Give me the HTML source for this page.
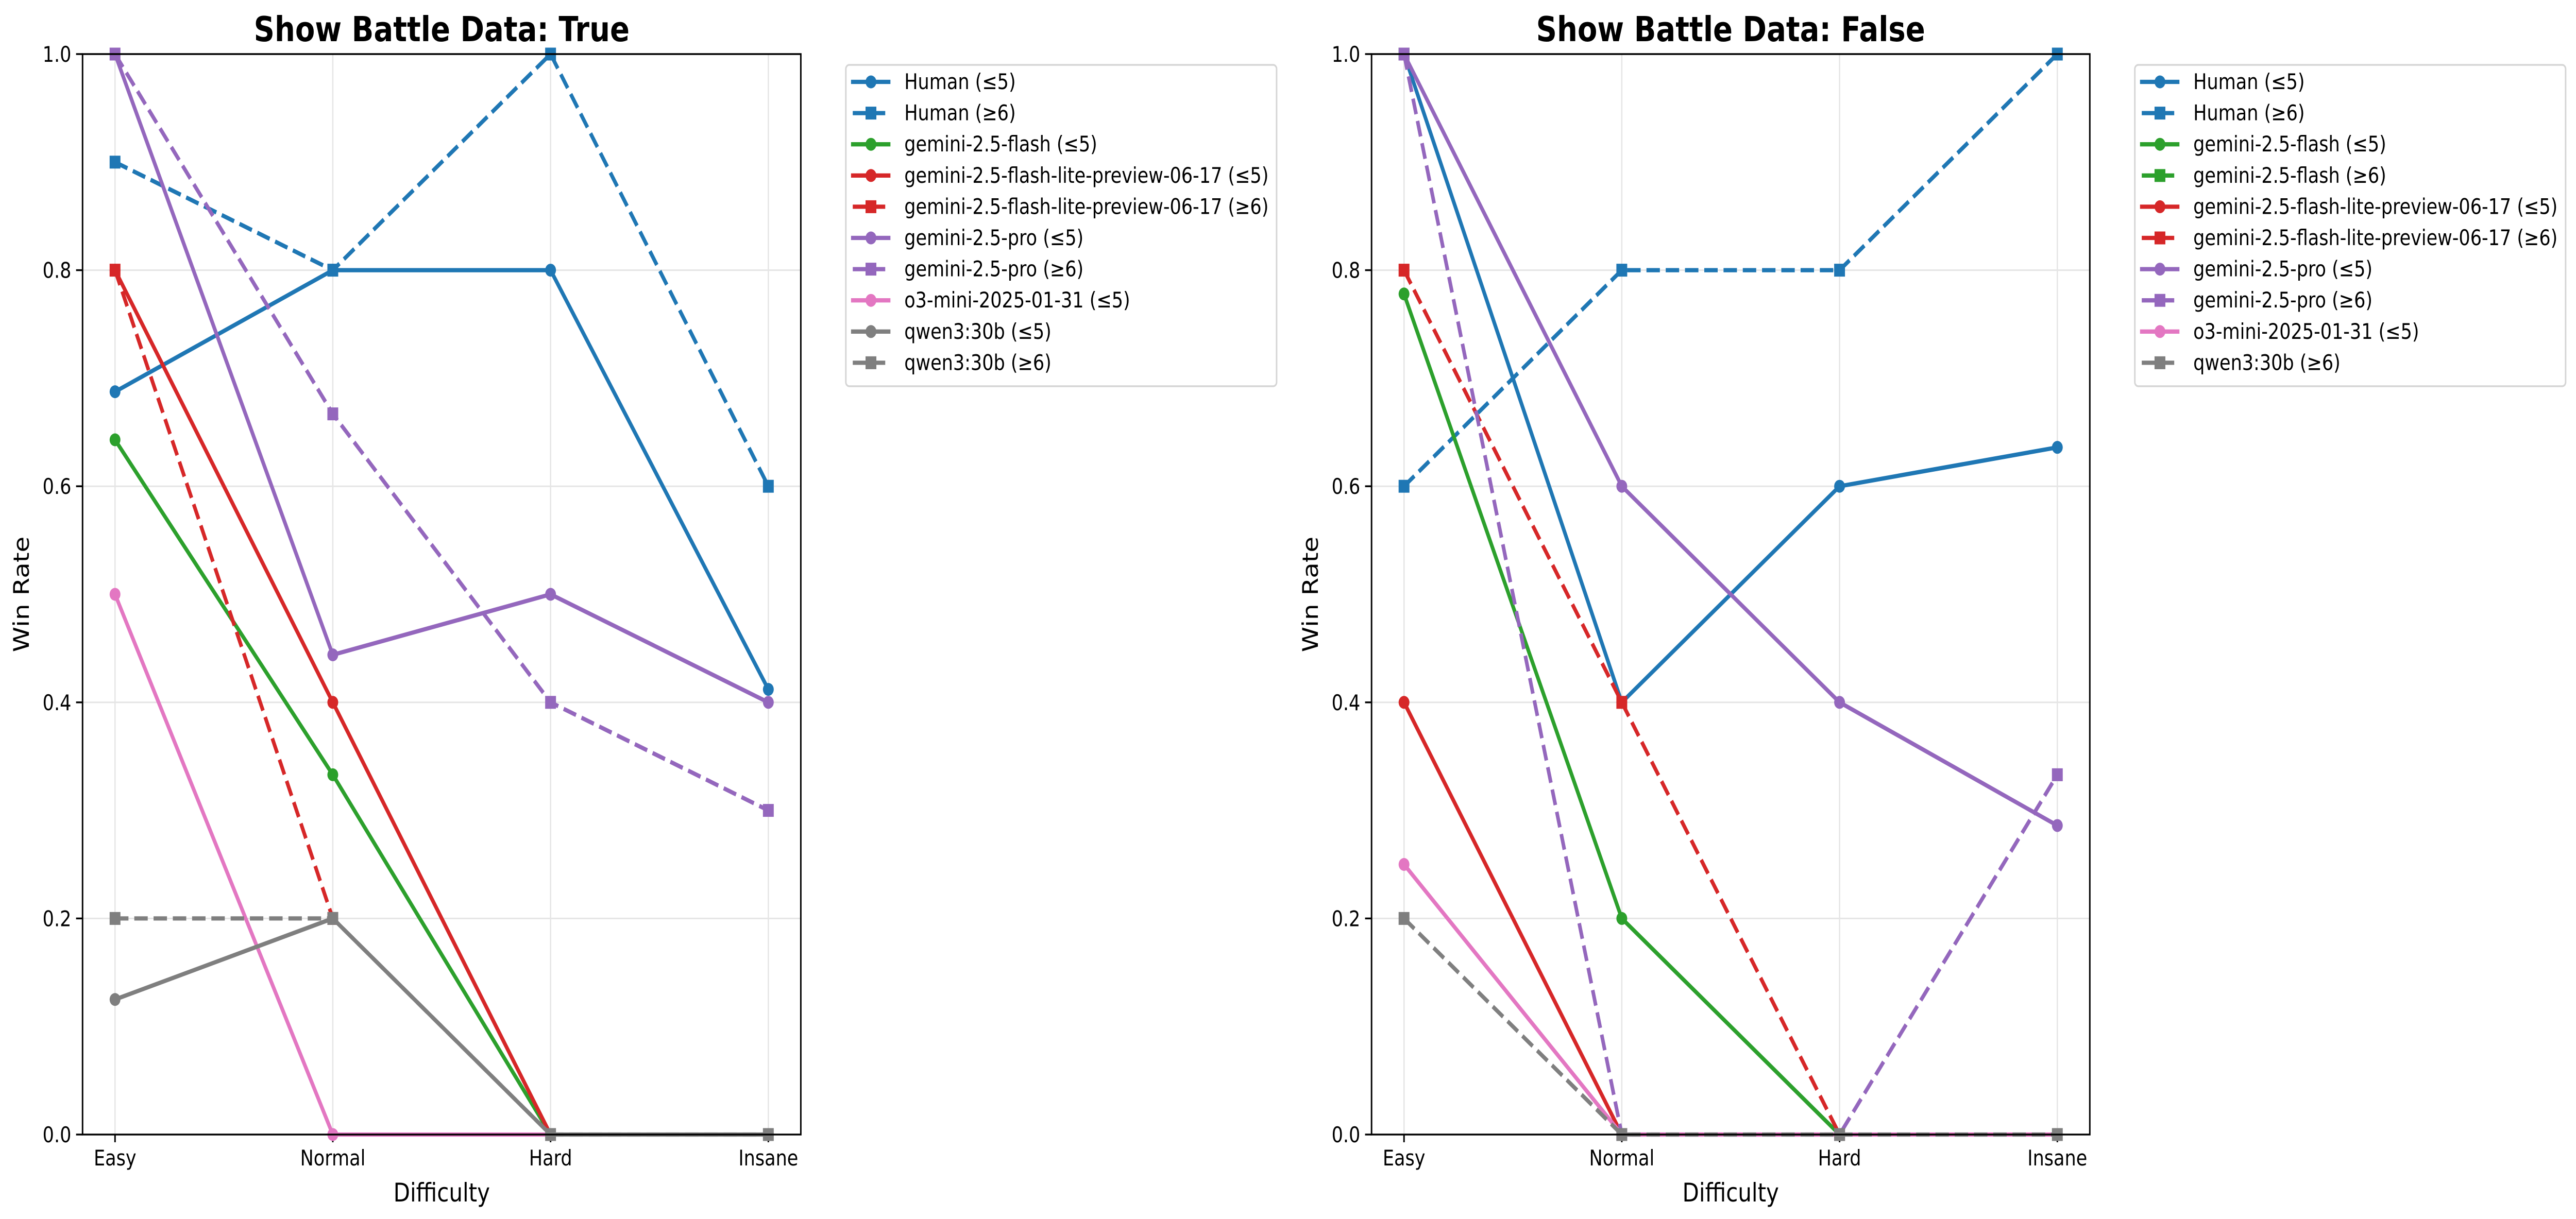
<!DOCTYPE html>
<html><head><meta charset="utf-8"><style>
html,body{margin:0;padding:0;background:#fff;width:100%;height:100%;overflow:hidden}
svg{display:block;width:100vw;height:100vh;font-family:"DejaVu Sans","Liberation Sans",sans-serif}
</style></head><body>
<svg id="chart" viewBox="0 0 5950 2367" preserveAspectRatio="none" xmlns="http://www.w3.org/2000/svg">
<rect width="5950" height="2367" fill="#fff"/>
</svg>
<script>
const categories = ["Easy","Normal","Hard","Insane"];
const yTicks = [0.0,0.2,0.4,0.6,0.8,1.0];
const yTickLabels = ["0.0","0.2","0.4","0.6","0.8","1.0"];
// Left panel (Show Battle Data: True)
const leftNames = ["Human (≤5)","Human (≥6)","gemini-2.5-flash (≤5)","gemini-2.5-flash-lite-preview-06-17 (≤5)","gemini-2.5-flash-lite-preview-06-17 (≥6)","gemini-2.5-pro (≤5)","gemini-2.5-pro (≥6)","o3-mini-2025-01-31 (≤5)","qwen3:30b (≤5)","qwen3:30b (≥6)"];
const leftHumanLe5 = [0.6875,0.8,0.8,0.412];
const leftHumanGe6 = [0.9,0.8,1.0,0.6];
const leftFlashLe5 = [0.643,0.333,0];
const leftLiteLe5 = [0.8,0.4,0];
const leftLiteGe6 = [0.8,0.2];
const leftProLe5 = [1.0,0.444,0.5,0.4];
const leftProGe6 = [1.0,0.667,0.4,0.3];
const leftO3Le5 = [0.5,0,0];
const leftQwenLe5 = [0.125,0.2,0,0];
const leftQwenGe6 = [0.2,0.2,0,0];
// Right panel (Show Battle Data: False)
const rightNames = ["Human (≤5)","Human (≥6)","gemini-2.5-flash (≤5)","gemini-2.5-flash (≥6)","gemini-2.5-flash-lite-preview-06-17 (≤5)","gemini-2.5-flash-lite-preview-06-17 (≥6)","gemini-2.5-pro (≤5)","gemini-2.5-pro (≥6)","o3-mini-2025-01-31 (≤5)","qwen3:30b (≥6)"];
const rightHumanLe5 = [1.0,0.4,0.6,0.636];
const rightHumanGe6 = [0.6,0.8,0.8,1.0];
const rightFlashLe5 = [0.778,0.2,0];
const rightFlashGe6 = [1.0];
const rightLiteLe5 = [0.4,0];
const rightLiteGe6 = [0.8,0.4,0];
const rightProLe5 = [1.0,0.6,0.4,0.286];
const rightProGe6 = [1.0,0,0,0.333];
const rightO3Le5 = [0.25,0,0,0];
const rightQwenGe6 = [0.2,0,0,0];

const C={blue:"#1f77b4",green:"#2ca02c",red:"#d62728",purple:"#9467bd",pink:"#e377c2",gray:"#7f7f7f"};
const leftSeries=[
 [leftHumanLe5,C.blue,0],[leftHumanGe6,C.blue,1],[leftFlashLe5,C.green,0],[leftLiteLe5,C.red,0],[leftLiteGe6,C.red,1],
 [leftProLe5,C.purple,0],[leftProGe6,C.purple,1],[leftO3Le5,C.pink,0],[leftQwenLe5,C.gray,0],[leftQwenGe6,C.gray,1]];
const rightSeries=[
 [rightHumanLe5,C.blue,0],[rightHumanGe6,C.blue,1],[rightFlashLe5,C.green,0],[rightFlashGe6,C.green,1],[rightLiteLe5,C.red,0],[rightLiteGe6,C.red,1],
 [rightProLe5,C.purple,0],[rightProGe6,C.purple,1],[rightO3Le5,C.pink,0],[rightQwenGe6,C.gray,1]];

const NS="http://www.w3.org/2000/svg";
const svg=document.getElementById('chart');
function mk(tag,attrs,parent,text){const e=document.createElementNS(NS,tag);for(const k in attrs)e.setAttribute(k,attrs[k]);if(text!==undefined)e.textContent=text;(parent||svg).appendChild(e);return e;}

function panel(key,x0,title,names,series){
  const x1=x0+1659, y0=105, y1=2203;
  const g=mk('g',{});
  
  
  const pad=75, step=(x1-x0-2*pad)/(categories.length-1);
  const xs=i=>x0+pad+i*step;
  const ys=v=>y1-v*(y1-y0);
  yTicks.forEach((t,i)=>{
    const gl=mk('line',{x1:x0,x2:x1,y1:ys(t),y2:ys(t),stroke:'#e5e5e5','stroke-width':3},g);
    
    
    mk('line',{x1:x0-15,x2:x0,y1:ys(t),y2:ys(t),stroke:'#000','stroke-width':3.5},g);
    const tl=mk('text',{x:x0-26,y:ys(t)+15,'font-size':41.7,'text-anchor':'end'},g,yTickLabels[i]);
    
    
  });
  categories.forEach((c,i)=>{
    const gl=mk('line',{x1:xs(i),x2:xs(i),y1:y0,y2:y1,stroke:'#e5e5e5','stroke-width':3},g);
    
    
    mk('line',{x1:xs(i),x2:xs(i),y1:y1,y2:y1+15,stroke:'#000','stroke-width':3.5},g);
    const tl=mk('text',{x:xs(i),y:2263,'font-size':41.7,'text-anchor':'middle'},g,c);
    
    
  });
  series.forEach((s,si)=>{
    const [vals,col,dashed]=s;
    const sg=mk('g',{},g);
    
    
    if(vals.length>1){
      const pts=vals.map((v,i)=>xs(i)+','+ys(v)).join(' ');
      const pl=mk('polyline',{points:pts,fill:'none',stroke:col,'stroke-width':8.3,'stroke-linejoin':'round','stroke-linecap':dashed?'butt':'square'},sg);
      if(dashed) pl.setAttribute('stroke-dasharray','31 13.5');
      
      
    }
    vals.forEach((v,i)=>{
      let m;
      if(dashed) m=mk('rect',{x:xs(i)-12.5,y:ys(v)-12.5,width:25,height:25,fill:col},sg);
      else m=mk('circle',{cx:xs(i),cy:ys(v),r:12.5,fill:col},sg);
      
      
    });
  });
  const fr=mk('rect',{x:x0,y:y0,width:x1-x0,height:y1-y0,fill:'none',stroke:'#000','stroke-width':3.5},g);
  
  
  const t=mk('text',{x:(x0+x1)/2,y:80,'font-size':66.7,'font-weight':'bold','text-anchor':'middle'},g,title);
  
  
  const xl=mk('text',{x:(x0+x1)/2,y:2333,'font-size':50,'text-anchor':'middle'},g,'Difficulty');
  
  
  const cy=(y0+y1)/2, lx=x0-124;
  const yl=mk('text',{x:lx,y:cy,'font-size':50,'text-anchor':'middle',transform:`rotate(-90 ${lx} ${cy})`},g,'Win Rate');
  
  
  const lx0=x1+104, ly0=126, rowH=60.6;
  const lg=mk('g',{},g);
  
  
  mk('rect',{x:lx0,y:ly0,width:995,height:rowH*names.length+18,rx:8,fill:'#fff',stroke:'#d5d5d5','stroke-width':3.5},lg);
  names.forEach((n,i)=>{
    const [vals,col,dashed]=series[i];
    const cyy=ly0+33+i*rowH;
    const e=mk('g',{},lg);
    
    
    const l=mk('line',{x1:lx0+12,x2:lx0+103,y1:cyy,y2:cyy,stroke:col,'stroke-width':8.3},e);
    if(dashed){ l.setAttribute('x1',lx0+16); l.setAttribute('x2',lx0+91); l.setAttribute('stroke-dasharray','31 13.5'); }
    if(dashed) mk('rect',{x:lx0+58-12.5,y:cyy-12.5,width:25,height:25,fill:col},e);
    else mk('circle',{cx:lx0+58,cy:cyy,r:12.5,fill:col},e);
    mk('text',{x:lx0+135,y:cyy+14,'font-size':41.7},e,n);
  });
}
panel('left',190.7,'Show Battle Data: True',leftNames,leftSeries);
panel('right',3168,'Show Battle Data: False',rightNames,rightSeries);
</script>
</body></html>
